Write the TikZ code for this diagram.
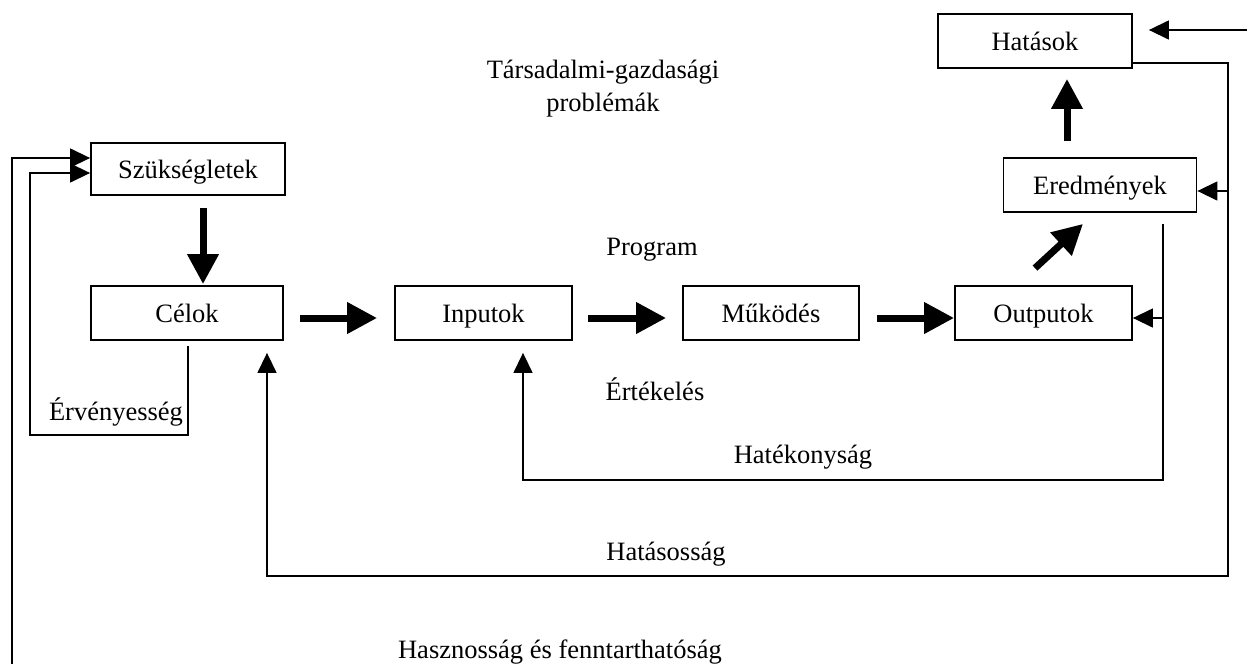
\documentclass[tikz,border=0pt]{standalone}
\usepackage{fontspec}
\setmainfont{Liberation Serif}
\usetikzlibrary{arrows.meta}
\begin{document}
\begin{tikzpicture}[x=0.5pt,y=-0.5pt,font=\fontsize{13.25}{16.5}\selectfont,line join=miter,
	lbl/.style={text height=11pt,text depth=2pt,inner sep=0pt},
	box/.style={lbl,draw,line width=0.9pt,minimum height=27pt},
	big/.style={line width=3.5pt,-{Triangle[length=15pt,width=15pt]}},
	fb/.style={line width=0.7pt,-{Triangle[length=10pt,width=9.5pt]}}]
	\useasboundingbox (0,0) rectangle (1247,664);
	% boxes
	\node[box,minimum width=97pt] (hat) at (1035,41) {Hatások};
	\node[box,minimum width=96.5pt] (ered) at (1100,185) {Eredmények};
	\node[box,minimum width=97pt,minimum height=26pt] (szuk) at (188,169) {Szükségletek};
	\node[box,minimum width=96pt] (cel) at (187,313) {Célok};
	\node[box,minimum width=88.5pt] (inp) at (483.5,313) {Inputok};
	\node[box,minimum width=88pt] (mukod) at (771,313) {Működés};
	\node[box,minimum width=88.5pt] (outp) at (1043.5,313) {Outputok};
	% free texts
	\node[align=center] (tgp) at (603,89) {Társadalmi-gazdasági\\problémák};
	\node[lbl] (prog) at (652,246) {Program};
	\node[lbl] (ertek) at (655,391) {Értékelés};
	\node[lbl] (erveny) at (116,411) {Érvényesség};
	\node[lbl] (hatek) at (803,454) {Hatékonyság};
	\node[lbl] (hatas) at (666,551) {Hatásosság};
	\node[lbl] (haszn) at (560,649) {Hasznosság és fenntarthatóság};
	% main flow
	\draw[big] ([shift={(15,12)}]szuk.south) -- ([shift={(16,-1)}]cel.north);
	\draw[big] ([shift={(16,5)}]cel.east) -- ([shift={(-17,5)}]inp.west);
	\draw[big] ([shift={(15,5)}]inp.east) -- ([shift={(-16,5)}]mukod.west);
	\draw[big] ([shift={(17,5)}]mukod.east) -- ([shift={(0,5)}]outp.west);
	\draw[big] ([shift={(-8.5,-17)}]outp.north) -- ([shift={(-17,11)}]ered.south);
	\draw[big] ([shift={(-33,-16)}]ered.north) -- ([shift={(32,10)}]hat.south);
	% feedback
	\coordinate (rin) at (1247,30);
	\coordinate (lbot) at (12,664);
	\draw[fb] (rin) -- ([shift={(16,-11)}]hat.east);
	\draw[fb] ([shift={(0,-6)}]hat.south east) -- ++(95,0) |- ([shift={(80,235)}]cel.south) -- ([shift={(80,12)}]cel.south);
	\draw[fb] ([shift={(30.5,6)}]ered.east) -- ([shift={(0,6)}]ered.east);
	\draw[fb] ([shift={(63,11)}]ered.south) |- ([shift={(39.5,139)}]inp.south) -- ([shift={(39.5,12)}]inp.south);
	\draw[fb] ([shift={(31,5)}]outp.east) -- ([shift={(0,5)}]outp.east);
	\draw[fb] (lbot) |- ([yshift=5.5pt]szuk.west);
	\draw[fb] ([shift={(1,5)}]cel.south) |- ([shift={(-60,94)}]cel.south west) |- ([yshift=-2pt]szuk.west);
\end{tikzpicture}
\end{document}
